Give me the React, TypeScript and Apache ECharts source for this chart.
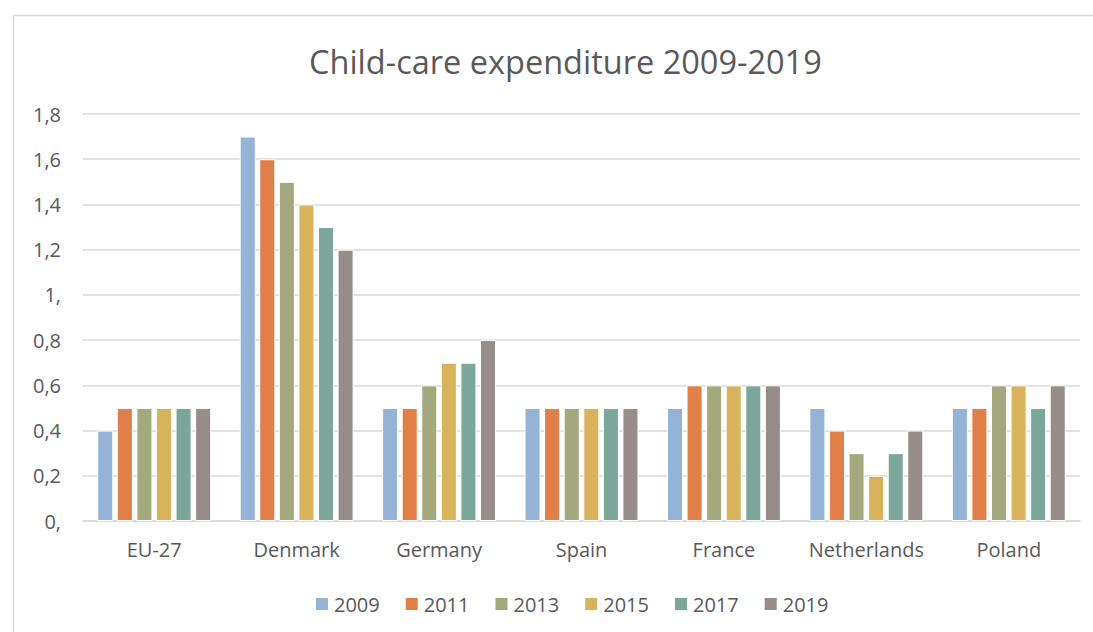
import React, { useEffect, useRef } from "react";
import * as echarts from "echarts";

const categories = ["EU-27", "Denmark", "Germany", "Spain", "France", "Netherlands", "Poland"];
const years = ["2009", "2011", "2013", "2015", "2017", "2019"];
const s2009 = [0.4, 1.7, 0.5, 0.5, 0.5, 0.5, 0.5];
const s2011 = [0.5, 1.6, 0.5, 0.5, 0.6, 0.4, 0.5];
const s2013 = [0.5, 1.5, 0.6, 0.5, 0.6, 0.3, 0.6];
const s2015 = [0.5, 1.4, 0.7, 0.5, 0.6, 0.2, 0.6];
const s2017 = [0.5, 1.3, 0.7, 0.5, 0.6, 0.3, 0.5];
const s2019 = [0.5, 1.2, 0.8, 0.5, 0.6, 0.4, 0.6];
const seriesValues = [s2009, s2011, s2013, s2015, s2017, s2019];
const colors = ["#95b3d7", "#e07f47", "#a3a97d", "#d9b25c", "#7ba69a", "#968c8a"];

const FONT = "'Open Sans', 'Noto Sans', sans-serif";

export default function App() {
  const ref = useRef<HTMLDivElement>(null);
  useEffect(() => {
    if (!ref.current) return;
    const chart = echarts.init(ref.current, undefined, { renderer: "svg" });
    chart.setOption({
      animation: false,
      color: colors,
      title: {
        text: "Child-care expenditure 2009-2019",
        left: 304,
        top: 40,
        textStyle: { fontFamily: FONT, fontSize: 32.5, fontWeight: "normal", color: "#595959" },
      },
      graphic: [
        {
          type: "rect",
          shape: { x: 13.5, y: 15.5, width: 1200, height: 700 },
          style: { fill: "none", stroke: "#d9d9d9", lineWidth: 1.5 },
          silent: true,
        },
      ],
      legend: {
        bottom: 13,
        left: 309,
        itemWidth: 14,
        itemHeight: 14,
        itemGap: 24,
        icon: "rect",
        textStyle: { fontFamily: FONT, fontSize: 20, color: "#595959" },
        data: years,
      },
      grid: { left: 83, right: 13, top: 114, bottom: 111, containLabel: false },
      xAxis: {
        type: "category",
        data: categories,
        axisLine: { lineStyle: { color: "#d9d9d9", width: 1.5 } },
        axisTick: { show: false },
        axisLabel: { interval: 0, fontFamily: FONT, fontSize: 20, color: "#595959", margin: 18 },
      },
      yAxis: {
        type: "value",
        min: 0,
        max: 1.8,
        interval: 0.2,
        axisLine: { show: false },
        axisTick: { show: false },
        splitLine: { lineStyle: { color: "#d9d9d9", width: 1.5 } },
        axisLabel: {
          fontFamily: FONT,
          fontSize: 20,
          color: "#595959",
          margin: 22,
          formatter: (v: number) => {
            const r = Math.round(v * 10) / 10;
            if (Number.isInteger(r)) return r + ",";
            return r.toFixed(1).replace(".", ",");
          },
        },
      },
      series: years.map((y, i) => ({
        name: y,
        type: "bar",
        data: seriesValues[i],
        barGap: "22%",
        barCategoryGap: "20%",
        itemStyle: { borderColor: "#ffffff", borderWidth: 1 },
      })),
    });
    return () => chart.dispose();
  }, []);
  return (
    <div
      ref={ref}
      style={{ position: "absolute", left: 0, top: 0, width: 1093, height: 632, background: "#fff" }}
    />
  );
}
